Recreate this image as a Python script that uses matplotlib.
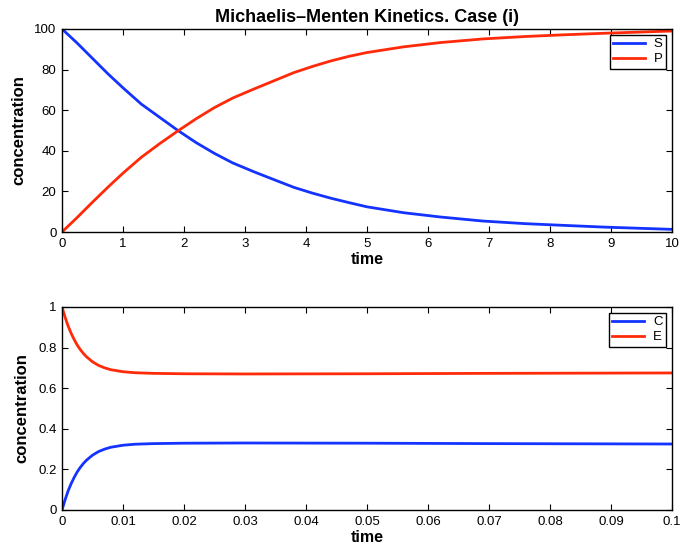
import matplotlib
matplotlib.use('Agg')
import matplotlib.pyplot as plt
from matplotlib.ticker import FuncFormatter

plt.rcParams['font.family'] = ['Liberation Sans', 'DejaVu Sans']

# top panel: substrate S and product P
t_long = [0, 0.25, 0.5, 0.75, 1.0, 1.3, 1.6, 1.9, 2.2, 2.5, 2.8, 3.16, 3.5,
          3.8, 4.1, 4.4, 4.7, 5.0, 5.6, 6.2, 6.9, 7.6, 8.2, 8.9, 9.5, 10]
S = [100, 93, 85.5, 78, 71, 63, 56.5, 50, 44, 38.7, 34, 29.5, 25.5,
     22, 19.2, 16.7, 14.5, 12.4, 9.5, 7.4, 5.4, 4.1, 3.3, 2.4, 1.8, 1.3]
P = [0, 7.2, 14.7, 22, 29, 36.8, 43.5, 49.8, 55.8, 61.3, 66, 70.6, 74.8,
     78.5, 81.5, 84.2, 86.5, 88.4, 91.2, 93.3, 95.1, 96.3, 97.1, 97.9,
     98.5, 99.0]

# bottom panel: complex C and free enzyme E
t_short = [0, 0.0005, 0.001, 0.0015, 0.002, 0.0025, 0.003, 0.0035, 0.004,
           0.005, 0.006, 0.007, 0.008, 0.010, 0.012, 0.015, 0.02, 0.03,
           0.05, 0.07, 0.1]
C = [0, 0.050, 0.094, 0.130, 0.161, 0.188, 0.210, 0.229, 0.245, 0.270,
     0.288, 0.300, 0.309, 0.319, 0.324, 0.327, 0.329, 0.330, 0.329,
     0.327, 0.325]
E = [1, 0.950, 0.906, 0.870, 0.839, 0.812, 0.790, 0.771, 0.755, 0.730,
     0.712, 0.700, 0.691, 0.681, 0.676, 0.673, 0.671, 0.670, 0.671,
     0.673, 0.675]

blue = '#1433ff'
red = '#ff2a0a'

fig = plt.figure(figsize=(6.8, 5.52), dpi=100)
ax1 = fig.add_axes([0.0912, 0.5797, 0.897, 0.3678])
ax2 = fig.add_axes([0.0912, 0.0761, 0.897, 0.3678])


def style(ax):
    ax.tick_params(direction='in', top=True, right=True, length=4,
                   width=0.8, labelsize=9.5, pad=4)
    for sp in ax.spines.values():
        sp.set_linewidth(1.0)
    ax.set_xlabel('time', fontsize=11.5, fontweight='bold', labelpad=2)
    ax.set_ylabel('concentration', fontsize=12, fontweight='bold', labelpad=6)
    leg = ax.legend(loc='upper right', fontsize=9.5, fancybox=False,
                    edgecolor='black', framealpha=1, handlelength=2.4,
                    borderaxespad=0.45, borderpad=0.25, labelspacing=0.2,
                    handletextpad=0.7)
    leg.get_frame().set_linewidth(1.0)


ax1.plot(t_long, S, color=blue, lw=2, label='S')
ax1.plot(t_long, P, color=red, lw=2, label='P')
ax1.set_xlim(0, 10)
ax1.set_ylim(0, 100)
ax1.set_xticks(range(0, 11))
ax1.set_yticks(range(0, 101, 20))
ax1.set_title('Michaelis\u2013Menten Kinetics. Case (i)', fontsize=13,
              fontweight='bold', pad=5)
style(ax1)

ax2.plot(t_short, C, color=blue, lw=2, label='C')
ax2.plot(t_short, E, color=red, lw=2, label='E')
ax2.set_xlim(0, 0.1)
ax2.set_ylim(0, 1)
ax2.set_xticks([i / 100 for i in range(11)])
ax2.set_yticks([0, 0.2, 0.4, 0.6, 0.8, 1])
fmt = FuncFormatter(lambda v, p: '%g' % round(v, 4))
ax2.xaxis.set_major_formatter(fmt)
ax2.yaxis.set_major_formatter(fmt)
style(ax2)

fig.savefig('out.png', dpi=100)
